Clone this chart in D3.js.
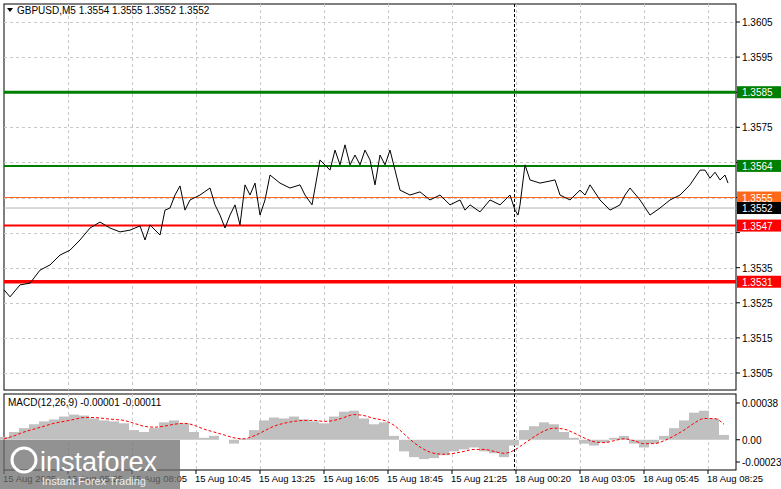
<!DOCTYPE html>
<html><head><meta charset="utf-8">
<script src="https://cdn.jsdelivr.net/npm/d3@7/dist/d3.min.js"></script>
<style>body{margin:0;background:#fff}svg{display:block}text{font-family:"Liberation Sans",Arial,sans-serif}</style>
</head><body><svg id="c" width="781" height="489"></svg>
<script>
const title = "GBPUSD,M5  1.3554 1.3555 1.3552 1.3552";
const timeLabels = ["15 Aug 2025","15 Aug 05:25","15 Aug 08:05","15 Aug 10:45","15 Aug 13:25","15 Aug 16:05","15 Aug 18:45","15 Aug 21:25","18 Aug 00:20","18 Aug 03:05","18 Aug 05:45","18 Aug 08:25"];
const timeLabelBars = [0,32,64,96,128,160,192,224,256,288,320,352];
const separatorBar = 255;
const priceTicks = [1.3605,1.3595,1.3585,1.3575,1.3565,1.3555,1.3545,1.3535,1.3525,1.3515,1.3505];
const priceBars = [0,3,8,13,18,23,28,33,38,43,48,53,58,63,68,70.5,73,78,80.5,83,85.5,88,90.5,93,98,103,105.5,108,110.5,113,115.5,118,120.5,123,125.5,128,130.5,133,138,143,148,150.5,154,158,163,165.5,168,170.5,173,175.5,178,180.5,183,185.5,188,190.5,193,195.5,198,203,208,213,218,223,228,230.5,233,238,243,248,253,255.5,257,258,260.5,263,268,273,275.5,278,283,288,290.5,293,298,303,308,310.5,313,318,323,328,333,338,343,348,350.5,353,355.5,358,360.5,362];
const closes = [1.35287,1.35267,1.35301,1.35306,1.35343,1.35358,1.35386,1.35400,1.35429,1.35463,1.35480,1.35463,1.35452,1.35457,1.35469,1.35429,1.35472,1.35443,1.35514,1.35520,1.35557,1.35583,1.35514,1.35543,1.35557,1.35577,1.35529,1.35500,1.35463,1.35500,1.35529,1.35472,1.35586,1.35557,1.35591,1.35500,1.35543,1.35614,1.35591,1.35577,1.35586,1.35557,1.35529,1.35657,1.35628,1.35685,1.35643,1.35700,1.35643,1.35671,1.35643,1.35685,1.35657,1.35586,1.35671,1.35643,1.35685,1.35628,1.35571,1.35557,1.35566,1.35543,1.35557,1.35529,1.35543,1.35514,1.35529,1.35509,1.35543,1.35529,1.35557,1.35514,1.35500,1.35529,1.35643,1.35600,1.35591,1.35597,1.35600,1.35557,1.35543,1.35571,1.35557,1.35586,1.35543,1.35514,1.35529,1.35557,1.35577,1.35543,1.35500,1.35520,1.35543,1.35557,1.35586,1.35628,1.35628,1.35605,1.35622,1.35600,1.35614,1.35591,1.35520];
const lastClose = 1.3552;
const levels = [
  {v:1.3585,color:"#008000",w:3,label:"1.3585"},
  {v:1.3564,color:"#008000",w:2,label:"1.3564"},
  {v:1.3547,color:"#ff0000",w:2,label:"1.3547"},
  {v:1.3531,color:"#ff0000",w:3.5,label:"1.3531"}];
const askPrice = 1.3555;
const macdTitle = "MACD(12,26,9) -0.00001 -0.00011";
const macdTicks = [0.00038,0,-0.00023];
const macdTickLabels = ["0.00038","0.00","-0.00023"];
const macdBars = [0,5,10,15,20,25,30,35,40,45,50,55,60,65,70,75,80,85,90,95,100,105,110,115,120,125,130,135,140,145,150,155,160,165,170,175,180,185,190,195,200,205,210,215,220,225,230,235,240,245,250,255,260,265,270,275,280,285,290,295,300,305,310,315,320,325,330,335,340,345,350,355,360];
const macdHist = [0.00003,0.00008,0.00012,0.00016,0.00019,0.00021,0.00024,0.00026,0.00025,0.00022,0.00020,0.00019,0.00017,0.00010,0.00008,0.00012,0.00018,0.00020,0.00017,0.00008,0.00002,0.00004,0.00000,-0.00004,0.00001,0.00010,0.00020,0.00023,0.00022,0.00024,0.00021,0.00019,0.00017,0.00024,0.00029,0.00030,0.00022,0.00016,0.00018,0.00004,-0.00012,-0.00018,-0.00020,-0.00019,-0.00016,-0.00012,-0.00010,-0.00008,-0.00012,-0.00014,-0.00018,-0.00006,0.00010,0.00014,0.00018,0.00016,0.00008,0.00002,-0.00004,-0.00006,-0.00003,0.00002,0.00004,-0.00004,-0.00008,-0.00004,0.00004,0.00012,0.00020,0.00028,0.00030,0.00022,0.00005];
const macdSignal = [0.00001,0.00004,0.00008,0.00011,0.00014,0.00017,0.00019,0.00021,0.00023,0.00023,0.00022,0.00021,0.00020,0.00017,0.00014,0.00013,0.00014,0.00016,0.00017,0.00015,0.00011,0.00008,0.00005,0.00002,0.00001,0.00004,0.00009,0.00014,0.00017,0.00019,0.00020,0.00020,0.00019,0.00020,0.00023,0.00026,0.00025,0.00022,0.00020,0.00015,0.00006,-0.00003,-0.00010,-0.00014,-0.00015,-0.00014,-0.00012,-0.00010,-0.00010,-0.00012,-0.00014,-0.00011,-0.00004,0.00003,0.00009,0.00012,0.00011,0.00007,0.00002,-0.00002,-0.00003,-0.00001,0.00001,-0.00001,-0.00004,-0.00004,-0.00001,0.00004,0.00010,0.00017,0.00022,0.00022,0.00016];

const svg = d3.select("#c");
const L=4,R=736,T=4,B=390,MT=394,MB=470;
const x = d3.scaleLinear().domain([0,366]).range([L,L+732]);
const y = d3.scaleLinear().domain([1.3505,1.3605]).range([373,22]);
const ym = d3.scaleLinear().domain([-0.00023,0.00038]).range([462,403]);

svg.append("rect").attr("x",L).attr("y",T).attr("width",R-L).attr("height",B-T).attr("fill","#fff").attr("stroke","#000");
svg.append("rect").attr("x",L).attr("y",MT).attr("width",R-L).attr("height",MB-MT).attr("fill","#fff").attr("stroke","#000");

const g = svg.append("g").attr("stroke","#c8c8c8").attr("stroke-dasharray","3,3");
priceTicks.forEach(t=>g.append("line").attr("x1",L).attr("x2",R).attr("y1",Math.round(y(t))+.5).attr("y2",Math.round(y(t))+.5));
timeLabelBars.slice(1).forEach(b=>{
  g.append("line").attr("x1",Math.round(x(b))+.5).attr("x2",Math.round(x(b))+.5).attr("y1",T).attr("y2",B);
  g.append("line").attr("x1",Math.round(x(b))+.5).attr("x2",Math.round(x(b))+.5).attr("y1",MT).attr("y2",MB);
});
svg.append("line").attr("x1",Math.round(x(separatorBar))+.5).attr("x2",Math.round(x(separatorBar))+.5).attr("y1",T).attr("y2",MB).attr("stroke","#000").attr("stroke-dasharray","3,2");

levels.forEach(l=>svg.append("line").attr("x1",L).attr("x2",R).attr("y1",y(l.v)).attr("y2",y(l.v)).attr("stroke",l.color).attr("stroke-width",l.w));
svg.append("line").attr("x1",L).attr("x2",R).attr("y1",y(askPrice)).attr("y2",y(askPrice)).attr("stroke","#ff6a1a");
svg.append("line").attr("x1",L).attr("x2",R).attr("y1",y(lastClose)).attr("y2",y(lastClose)).attr("stroke","#b4b4b4");

svg.append("path").datum(closes).attr("fill","none").attr("stroke","#000").attr("stroke-width",1)
  .attr("d",d3.line().x((d,i)=>x(priceBars[i])).y(d=>y(d)));

const boxVals = levels.map(l=>l.v).concat([askPrice,lastClose]);
const ax = svg.append("g").attr("font-size",10).attr("fill","#000");
priceTicks.forEach(t=>{
  ax.append("line").attr("x1",R).attr("x2",R+4).attr("y1",y(t)).attr("y2",y(t)).attr("stroke","#000");
  const hidden = boxVals.some(v=>Math.abs(y(v)-y(t))<11);
  if(!hidden) ax.append("text").attr("x",R+6).attr("y",y(t)+4).text(t.toFixed(4));
});
function box(v,bg,txt){
  svg.append("rect").attr("x",R+1).attr("y",y(v)-6).attr("width",44).attr("height",12).attr("fill",bg);
  svg.append("text").attr("x",R+6).attr("y",y(v)+4).attr("font-size",10).attr("fill","#fff").text(txt);
}
levels.forEach(l=>box(l.v,l.color,l.label));
box(askPrice,"#ff6a1a","1.3555");
box(lastClose,"#000","1.3552");

svg.append("path").attr("d","M7,8 L13,8 L10,12 Z").attr("fill","#000");
svg.append("text").attr("x",17).attr("y",14).attr("font-size",10).text(title);

const bw = x(5)-x(0);
svg.append("g").selectAll("rect").data(macdHist).join("rect")
  .attr("x",(d,i)=>x(macdBars[i])-bw/2).attr("width",bw)
  .attr("y",d=>Math.min(ym(d),ym(0))).attr("height",d=>Math.abs(ym(d)-ym(0))).attr("fill","#c0c0c0");
svg.append("path").datum(macdSignal).attr("fill","none").attr("stroke","#ff0000").attr("stroke-dasharray","3,2")
  .attr("d",d3.line().curve(d3.curveMonotoneX).x((d,i)=>x(macdBars[i])).y(d=>ym(d)));
svg.append("text").attr("x",8).attr("y",406).attr("font-size",10).text(macdTitle);
macdTicks.forEach((t,i)=>{
  svg.append("line").attr("x1",R).attr("x2",R+4).attr("y1",ym(t)).attr("y2",ym(t)).attr("stroke","#000");
  svg.append("text").attr("x",R+6).attr("y",ym(t)+4).attr("font-size",10).text(macdTickLabels[i]);
});

timeLabelBars.forEach((b,i)=>{
  svg.append("line").attr("x1",x(b)).attr("x2",x(b)).attr("y1",MB).attr("y2",MB+4).attr("stroke","#000");
  svg.append("text").attr("x",x(b)-1).attr("y",482).attr("font-size",9.5).text(timeLabels[i]);
});

const wm = svg.append("g");
wm.append("rect").attr("x",0).attr("y",440).attr("width",180).attr("height",49).attr("fill","#6e6e6e").attr("opacity",0.75);
wm.append("circle").attr("cx",24).attr("cy",460).attr("r",12).attr("fill","none").attr("stroke","#fff").attr("stroke-width",3);
wm.append("text").attr("x",40).attr("y",471).attr("font-size",27).attr("fill","#fff").attr("font-family","Open Sans, sans-serif").text("instaforex");
wm.append("text").attr("x",42).attr("y",485).attr("font-size",11).attr("fill","#eee").text("Instant Forex Trading");
</script></body></html>
